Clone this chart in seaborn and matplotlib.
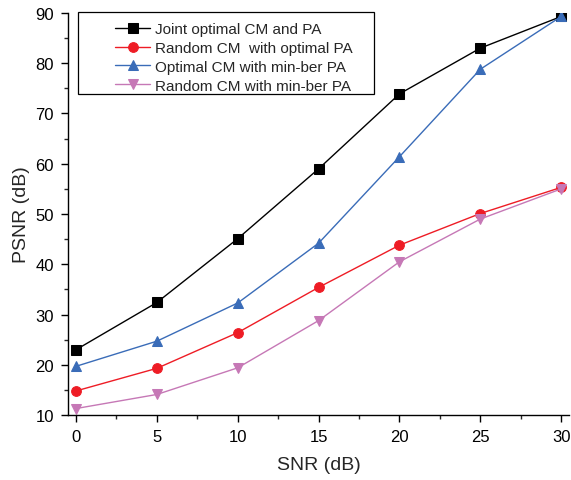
import matplotlib
matplotlib.use("Agg")
import matplotlib.pyplot as plt
import seaborn as sns
import pandas as pd
from matplotlib.ticker import MultipleLocator
from matplotlib.patches import Rectangle

snr = [0, 5, 10, 15, 20, 25, 30]
joint_opt = [23.0, 32.4, 45.1, 59.0, 73.9, 83.0, 89.3]
random_opt = [14.8, 19.3, 26.4, 35.4, 43.8, 50.1, 55.3]
opt_minber = [19.7, 24.7, 32.3, 44.2, 61.4, 78.8, 89.3]
random_minber = [11.3, 14.1, 19.4, 28.8, 40.5, 49.0, 55.0]

labels = ["Joint optimal CM and PA", "Random CM  with optimal PA",
          "Optimal CM with min-ber PA", "Random CM with min-ber PA"]
series = [joint_opt, random_opt, opt_minber, random_minber]
colors = ["#000000", "#ee1c25", "#3a6cb8", "#c678b6"]
markers = ["s", "o", "^", "v"]

sns.set_style("ticks")
plt.rcParams['font.family'] = ['Liberation Sans', 'DejaVu Sans']

fig = plt.figure(figsize=(5.71, 4.81), dpi=100)
ax = fig.add_axes([0.119, 0.135, 0.878, 0.836])

for lab, vals, c, m in zip(labels, series, colors, markers):
    df = pd.DataFrame({"SNR": snr, "PSNR": vals})
    sns.lineplot(data=df, x="SNR", y="PSNR", ax=ax, color=c, marker=m,
                 markersize=7, markeredgecolor=c, linewidth=1.0, label=lab)

ax.set_xlim(-0.5, 30.5)
ax.set_ylim(10, 90)
ax.xaxis.set_major_locator(MultipleLocator(5))
ax.xaxis.set_minor_locator(MultipleLocator(2.5))
ax.yaxis.set_major_locator(MultipleLocator(10))
ax.yaxis.set_minor_locator(MultipleLocator(5))
ax.tick_params(which="major", direction="out", length=5, width=1, labelsize=12,
               colors="black", pad=5)
ax.tick_params(which="minor", direction="out", length=3, width=1)
for s in ["top", "right"]:
    ax.spines[s].set_visible(False)
for s in ["left", "bottom"]:
    ax.spines[s].set_linewidth(1.0)
    ax.spines[s].set_color("black")
ax.set_xlabel("SNR (dB)", fontsize=14, labelpad=9)
ax.set_ylabel("PSNR (dB)", fontsize=14, labelpad=4)

leg = ax.legend(loc="upper left", bbox_to_anchor=(115 / 571, 1 - 23 / 481),
                bbox_transform=fig.transFigure, fontsize=11,
                frameon=False, handlelength=2.3, borderpad=0.0,
                labelspacing=0.32, handletextpad=0.3, borderaxespad=0.0)
fig.add_artist(Rectangle((78 / 571, 1 - 95 / 481), 296 / 571, 82 / 481,
                         transform=fig.transFigure, fill=False,
                         edgecolor="black", linewidth=0.9, zorder=5))

fig.savefig("out.png", dpi=100)
